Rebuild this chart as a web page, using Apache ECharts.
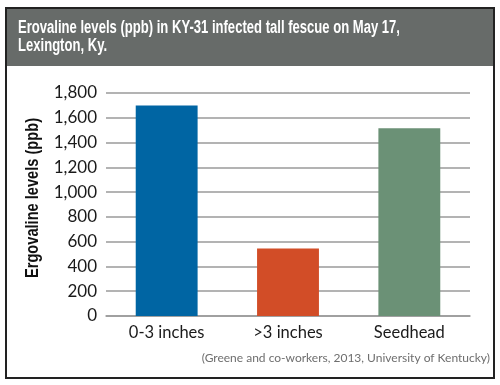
<!DOCTYPE html>
<html><head><meta charset="utf-8">
<script src="https://cdn.jsdelivr.net/npm/echarts@6/dist/echarts.min.js"></script>
<style>html,body{margin:0;padding:0;background:#fff}#c{width:500px;height:385px}</style>
</head><body><div id="c"></div>
<script>
const categories = ['0-3 inches', '>3 inches', 'Seedhead'];
const values = [1700, 545, 1515];
const yTicks = [0, 1800, 200]; // min, max, interval
const titleLines = ['Erovaline levels (ppb) in KY-31 infected tall fescue on May 17,', 'Lexington, Ky.'];
const yName = 'Ergovaline levels (ppb)';
const source = '(Greene and co-workers, 2013, University of Kentucky)';
const barColors = ['#0065a3', '#d24d27', '#6b9176'];

const condFont = 'bold 18px "Liberation Sans"';
function textW(t, f) {
  const ctx = document.createElement('canvas').getContext('2d');
  ctx.font = f; return ctx.measureText(t).width;
}
const titleScale = 382 / textW(titleLines[0], condFont);
const nameScale = 160 / textW(yName, condFont);

const chart = echarts.init(document.getElementById('c'), null, {renderer: 'canvas'});
chart.setOption({
  animation: false,
  grid: {left: 106, right: 30, top: 93, bottom: 69},
  xAxis: {
    type: 'category', data: categories,
    axisLine: {lineStyle: {color: '#9a9a9a', width: 1.5}},
    axisTick: {show: false},
    axisLabel: {color: '#1a1a1a', fontFamily: 'Lato', fontSize: 16.5, margin: 8}
  },
  yAxis: {
    type: 'value', min: yTicks[0], max: yTicks[1], interval: yTicks[2],
    axisLine: {show: false}, axisTick: {show: false},
    axisLabel: {color: '#1a1a1a', fontFamily: 'Lato', fontSize: 17, margin: 9,
      formatter: v => v.toLocaleString('en-US')},
    splitLine: {lineStyle: {color: '#9a9a9a', width: 1.5}}
  },
  series: [{
    type: 'bar', barWidth: '51%',
    data: values.map((v, i) => ({value: v, itemStyle: {color: barColors[i]}}))
  }],
  graphic: [
    {type: 'rect', shape: {x: 6, y: 8, width: 488, height: 370}, style: {fill: 'none', stroke: '#222', lineWidth: 2}, z: 10},
    {type: 'rect', shape: {x: 6, y: 8, width: 488, height: 58}, style: {fill: '#676b69'}, z: 1},
    {type: 'text', x: 18, y: 19, scaleX: titleScale, z: 2,
      style: {text: titleLines.join('\n'), fill: '#fff', font: condFont, lineHeight: 18}},
    {type: 'text', x: 24, y: 278, rotation: Math.PI / 2, scaleX: nameScale, z: 2,
      style: {text: yName, fill: '#111', font: condFont}},
    {type: 'text', right: 10, top: 352, z: 2,
      style: {text: source, fill: '#6e6e6e', font: '12px Lato'}}
  ]
});
</script></body></html>
